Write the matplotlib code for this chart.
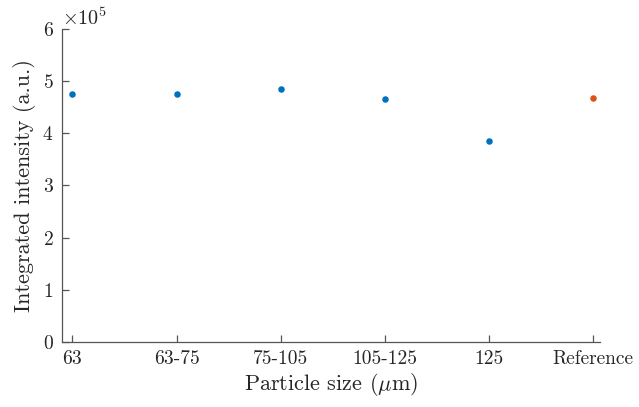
import matplotlib
matplotlib.use("Agg")
import matplotlib.pyplot as plt
from matplotlib.ticker import ScalarFormatter

plt.rcParams["font.family"] = ["cmr10", "DejaVu Serif"]
plt.rcParams["mathtext.fontset"] = "cm"
plt.rcParams["axes.formatter.use_mathtext"] = True

# data
sizes = ["63", "63-75", "75-105", "105-125", "125"]
intensity = [4.75e5, 4.75e5, 4.85e5, 4.65e5, 3.86e5]
ref_label = "Reference"
ref_intensity = 4.68e5

AXC = "#555555"

fig = plt.figure(figsize=(6.39, 4.07), dpi=100)
ax = fig.add_axes([0.097, 0.16, 0.842, 0.769])

x = list(range(1, len(sizes) + 1))
ax.scatter(x, intensity, s=22, color="#0072BD", zorder=3, linewidths=0)
ax.scatter([len(sizes) + 1], [ref_intensity], s=22, color="#D95319",
           zorder=3, linewidths=0)

ax.set_xlim(0.9, 6.065)
ax.set_ylim(0, 6e5)
ax.set_xticks(x + [len(sizes) + 1])
ax.set_xticklabels(sizes + [ref_label])
ax.set_yticks([i * 1e5 for i in range(7)])

fmt = ScalarFormatter(useMathText=True)
fmt.set_powerlimits((0, 0))
ax.yaxis.set_major_formatter(fmt)
off = ax.yaxis.get_offset_text()
off.set_fontsize(14.5)
off.set_color("#262626")

ax.spines["top"].set_visible(False)
ax.spines["right"].set_visible(False)
for s in ("left", "bottom"):
    ax.spines[s].set_color(AXC)
    ax.spines[s].set_linewidth(0.9)
ax.tick_params(direction="in", length=5, width=0.9, color=AXC,
               labelsize=14, labelcolor="#262626", pad=6)

ax.set_xlabel(r"Particle size ($\mu$m)", fontsize=16, color="#262626", labelpad=2)
ax.set_ylabel("Integrated intensity (a.u.)", fontsize=16, color="#262626", labelpad=5)

fig.savefig("out.png", dpi=100)
